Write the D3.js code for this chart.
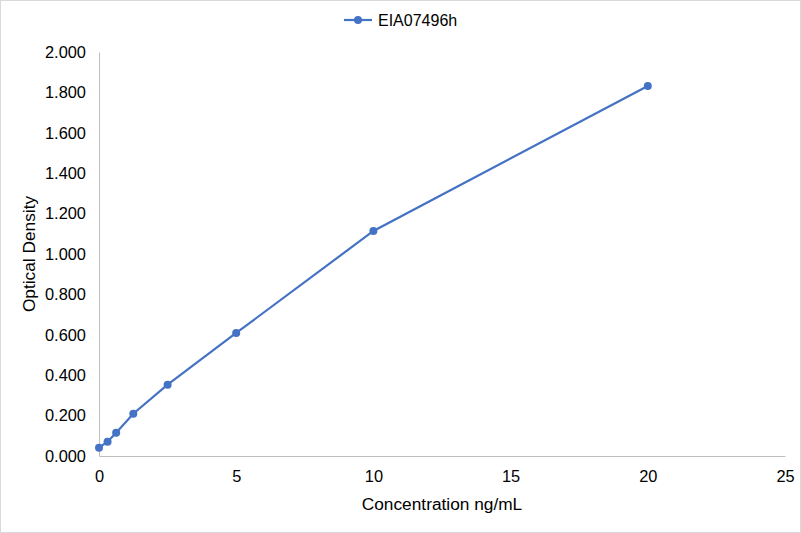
<!DOCTYPE html>
<html>
<head>
<meta charset="utf-8">
<script src="https://cdn.jsdelivr.net/npm/d3@7"></script>
<style>
  body { margin: 0; background: #fff; }
  text { font-family: "Liberation Sans", Arial, sans-serif; fill: #000; }
</style>
</head>
<body>
<svg id="chart" width="801" height="533"></svg>
<script>
// standard curve data
var seriesName = 'EIA07496h';
var concentrations = [0, 0.3125, 0.625, 1.25, 2.5, 5, 10, 20];
var densities = [0.041, 0.071, 0.115, 0.209, 0.353, 0.609, 1.114, 1.832];
var xTicks = [0, 5, 10, 15, 20, 25];
var yTicks = [0, 0.2, 0.4, 0.6, 0.8, 1.0, 1.2, 1.4, 1.6, 1.8, 2.0];

var svg = d3.select('#chart');
var W = 801, H = 533;
var m = {left: 99, right: 16, top: 52, bottom: 77};
var color = '#4472c4';

svg.append('rect')
    .attr('x', 0.5).attr('y', 0.5)
    .attr('width', W - 1).attr('height', H - 1)
    .attr('fill', '#fff').attr('stroke', '#d9d9d9');

var x = d3.scaleLinear().domain([0, 25]).range([m.left, W - m.right]);
var y = d3.scaleLinear().domain([0, 2]).range([H - m.bottom, m.top]);

// axes
var xAxis = svg.append('g')
    .attr('transform', 'translate(0,' + y(0) + ')')
    .call(d3.axisBottom(x).tickValues(xTicks).tickSize(0).tickPadding(14));
var yAxis = svg.append('g')
    .attr('transform', 'translate(' + x(0) + ',0)')
    .call(d3.axisLeft(y).tickValues(yTicks).tickSize(0).tickPadding(13)
        .tickFormat(d3.format('.3f')));
[xAxis, yAxis].forEach(function(a) {
    a.select('.domain').attr('stroke', '#bfbfbf');
    a.selectAll('text').attr('font-size', 16.4).attr('fill', '#000')
        .style('font-family', '"Liberation Sans", Arial, sans-serif');
});

// axis titles
svg.append('text')
    .attr('x', 442).attr('y', 510)
    .attr('text-anchor', 'middle').attr('font-size', 17.3)
    .text('Concentration ng/mL');
svg.append('text')
    .attr('transform', 'translate(35,' + ((y(0) + y(2)) / 2) + ') rotate(-90)')
    .attr('text-anchor', 'middle').attr('font-size', 17.3)
    .text('Optical Density');

// line and points
var pts = concentrations.map(function(c, i) { return [c, densities[i]]; });
svg.append('path')
    .datum(pts)
    .attr('fill', 'none').attr('stroke', color).attr('stroke-width', 2.2)
    .attr('d', d3.line().x(function(d) { return x(d[0]); }).y(function(d) { return y(d[1]); }));
svg.selectAll('circle.pt')
    .data(pts).enter().append('circle')
    .attr('class', 'pt')
    .attr('cx', function(d) { return x(d[0]); })
    .attr('cy', function(d) { return y(d[1]); })
    .attr('r', 4).attr('fill', color);

// legend
var lg = svg.append('g').attr('transform', 'translate(344,20)');
lg.append('line').attr('x1', 0).attr('x2', 28).attr('y1', 0).attr('y2', 0)
    .attr('stroke', color).attr('stroke-width', 2.2);
lg.append('circle').attr('cx', 14).attr('cy', 0).attr('r', 4).attr('fill', color);
lg.append('text').attr('x', 34).attr('y', 6).attr('font-size', 16).text(seriesName);
</script>
</body>
</html>
